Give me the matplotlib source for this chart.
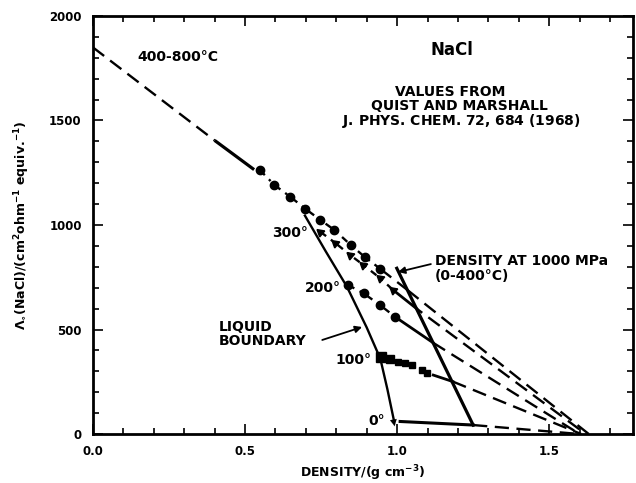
import matplotlib
matplotlib.use("Agg")
import matplotlib.pyplot as plt
from matplotlib.ticker import MultipleLocator, FixedLocator, FixedFormatter

plt.rcParams['font.family'] = ['DejaVu Sans']
plt.rcParams['font.weight'] = 'bold'
plt.rcParams['axes.labelweight'] = 'bold'
plt.rcParams['mathtext.fontset'] = 'custom'
plt.rcParams['mathtext.rm'] = 'DejaVu Sans:bold'
plt.rcParams['mathtext.bf'] = 'DejaVu Sans:bold'
plt.rcParams['mathtext.it'] = 'DejaVu Sans:bold'

# ---------------- data (density g/cm3, Lambda0) ----------------
# 400-800 C common line
hi_dash_d = [0.0, 0.40]
hi_dash_L = [1850, 1405]
hi_solid_d = [0.40, 0.53]
hi_solid_L = [1405, 1265]
hi_pts_d = [0.549, 0.597, 0.649, 0.698, 0.748, 0.794, 0.848, 0.893, 0.944]
hi_pts_L = [1263, 1191, 1135, 1078, 1024, 976, 904, 848, 791]
hi_ext_d = [0.944, 1.034, 1.63]
hi_ext_L = [791, 689, 0]

# 300 C isotherm
t300_d = [0.748, 0.797, 0.846, 0.889, 0.944, 0.987]
t300_L = [967, 914, 856, 809, 746, 689]
t300_ext_d = [0.987, 1.064, 1.62]
t300_ext_L = [689, 600, 0]

# 200 C isotherm
t200_d = [0.839, 0.890, 0.944, 0.993]
t200_L = [713, 673, 617, 561]
t200_ext_d = [0.993, 1.118, 1.60]
t200_ext_L = [561, 437, 0]

# 100 C isotherm
t100_d = [0.946, 0.977, 1.004, 1.026, 1.048, 1.081, 1.097]
t100_L = [367, 357, 343, 338, 330, 306, 293]
t100_ext_d = [1.119, 1.183, 1.605]
t100_ext_L = [282, 251, 0]

# 0 C isotherm
t0_ext_d = [1.01, 1.25, 1.60]
t0_ext_L = [60, 43, 0]

# density at 1000 MPa (0-400 C)
mpa_d = [0.999, 1.25]
mpa_L = [793, 43]

# liquid boundary
lb_d = [0.697, 0.765, 0.835, 0.900, 0.945, 0.968, 0.990]
lb_L = [1045, 875, 705, 510, 360, 215, 62]

x_ticks = [0.0, 0.5, 1.0, 1.5]
x_labels = ["0.0", "0.5", "1.0", "1.5"]
y_ticks = [0, 500, 1000, 1500, 2000]
y_labels = ["0", "500", "1000", "1500", "2000"]

# ---------------- figure ----------------
fig = plt.figure(figsize=(6.36, 4.83), dpi=100)
ax = fig.add_axes([0.146, 0.1014, 0.8491, 0.8655])

k = 'black'
lw = 1.7
dash = (0, (6, 3.2))
dashdot = (0, (3, 2.5, 1, 2.5))

# 400-800
ax.plot(hi_dash_d, hi_dash_L, color=k, lw=lw, linestyle=dash)
ax.plot(hi_solid_d, hi_solid_L, color=k, lw=2.3, solid_capstyle='butt')
ax.plot(hi_pts_d, hi_pts_L, color=k, lw=lw, linestyle=dashdot,
        marker='o', markersize=6)
ax.plot(hi_ext_d[:2], hi_ext_L[:2], color=k, lw=lw, linestyle=dash)
ax.plot(hi_ext_d[1:], hi_ext_L[1:], color=k, lw=lw, linestyle=dash)

# 300
ax.plot(t300_d, t300_L, color=k, lw=lw, linestyle=dashdot,
        marker=(3, 0, 50), markersize=6.5)
ax.plot(t300_ext_d[:2], t300_ext_L[:2], color=k, lw=2.0)
ax.plot(t300_ext_d[1:], t300_ext_L[1:], color=k, lw=lw, linestyle=(3, (6, 3.2)))

# 200
ax.plot(t200_d, t200_L, color=k, lw=lw, linestyle=dashdot,
        marker='o', markersize=6)
ax.plot(t200_ext_d[:2], t200_ext_L[:2], color=k, lw=2.0)
ax.plot(t200_ext_d[1:], t200_ext_L[1:], color=k, lw=lw, linestyle=dash)

# 100
sizes100 = [6.5, 5.5, 5, 4.5, 4, 4, 4]
for d, L, s in zip(t100_d, t100_L, sizes100):
    ax.plot([d], [L], color=k, marker='s', markersize=s, linestyle='none')
ax.plot(t100_ext_d[:2], t100_ext_L[:2], color=k, lw=2.0)
ax.plot(t100_ext_d[1:], t100_ext_L[1:], color=k, lw=lw, linestyle=dash)

# 0
ax.plot(t0_ext_d[:2], t0_ext_L[:2], color=k, lw=2.2)
ax.plot(t0_ext_d[1:], t0_ext_L[1:], color=k, lw=lw, linestyle=dash)

# 1000 MPa line
ax.plot(mpa_d, mpa_L, color=k, lw=2.3)

# liquid boundary with arrow head
ax.plot(lb_d, lb_L, color=k, lw=1.7)
ax.annotate("", xy=(lb_d[-1] + 0.002, lb_L[-1] - 25), xytext=(lb_d[-2], lb_L[-2]),
            arrowprops=dict(arrowstyle='-|>', color=k, lw=0.1,
                            mutation_scale=12, shrinkA=0, shrinkB=0))

# ---------------- texts ----------------
fs = 10
ax.text(0.279, 1804, "400-800°C", fontsize=fs, ha='center', va='center')
ax.text(1.18, 1837, "NaCl", fontsize=12, ha='center', va='center')
ax.text(1.174, 1636, "VALUES FROM", fontsize=fs, ha='center', va='center')
ax.text(1.205, 1570, "QUIST AND MARSHALL", fontsize=fs, ha='center', va='center')
ax.text(1.21, 1498, r"J. PHYS. CHEM. $\mathbf{72}$, 684 (1968)", fontsize=fs,
        ha='center', va='center')
ax.text(0.649, 962, "300°", fontsize=fs, ha='center', va='center')
ax.text(0.757, 699, "200°", fontsize=fs, ha='center', va='center')
ax.text(0.856, 354, "100°", fontsize=fs, ha='center', va='center')
ax.text(0.934, 62, "0°", fontsize=fs, ha='center', va='center')

ax.text(0.413, 478, "LIQUID\nBOUNDARY", fontsize=fs, ha='left', va='center',
        linespacing=1.0)
ax.annotate("", xy=(0.885, 512), xytext=(0.754, 450),
            arrowprops=dict(arrowstyle='-|>', color=k, lw=1.3,
                            mutation_scale=10, shrinkA=0, shrinkB=0))

ax.text(1.125, 792, "DENSITY AT 1000 MPa\n(0-400°C)", fontsize=fs, ha='left',
        va='center', linespacing=1.05)
ax.annotate("", xy=(1.003, 775), xytext=(1.111, 813),
            arrowprops=dict(arrowstyle='-|>', color=k, lw=1.3,
                            mutation_scale=10, shrinkA=0, shrinkB=0))

# ---------------- axes ----------------
ax.set_xlim(0.0, 1.775)
ax.set_ylim(0, 2000)
ax.xaxis.set_major_locator(FixedLocator(x_ticks))
ax.xaxis.set_major_formatter(FixedFormatter(x_labels))
ax.yaxis.set_major_locator(FixedLocator(y_ticks))
ax.yaxis.set_major_formatter(FixedFormatter(y_labels))
ax.xaxis.set_minor_locator(MultipleLocator(0.1))
ax.yaxis.set_minor_locator(MultipleLocator(100))
ax.tick_params(which='both', direction='in', top=True, right=True, width=1.2,
               labelsize=8.5)
ax.tick_params(which='major', length=7)
ax.tick_params(which='minor', length=4)
ax.tick_params(axis='x', pad=8)
ax.tick_params(axis='y', pad=8)
for sp in ax.spines.values():
    sp.set_linewidth(2)

ax.set_xlabel(r"DENSITY/(g cm$^{-3}$)", fontsize=9, labelpad=4)
ax.set_ylabel(r"$\Lambda_{\circ}$(NaCl)/(cm$^{2}$ohm$^{-1}$ equiv.$^{-1}$)",
              fontsize=9, labelpad=12)

fig.savefig("out.png", dpi=100)
